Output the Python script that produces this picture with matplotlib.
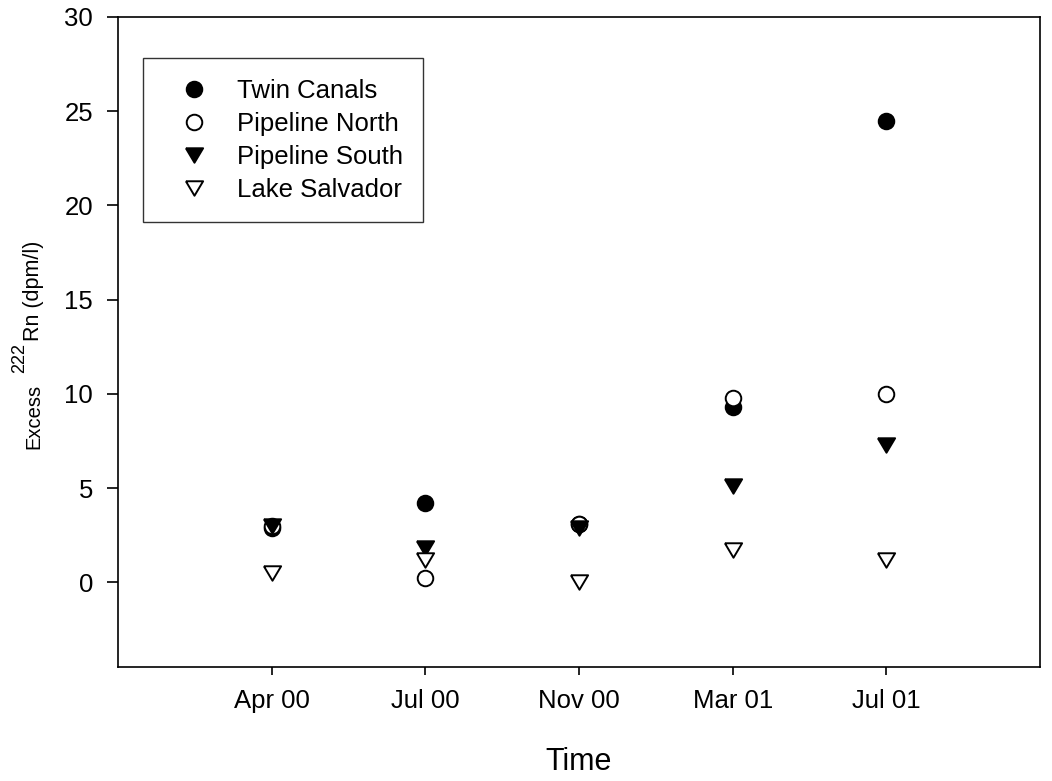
import matplotlib
matplotlib.use("Agg")
import matplotlib.pyplot as plt

plt.rcParams['font.family'] = ['Liberation Sans', 'DejaVu Sans']

times = ["Apr 00", "Jul 00", "Nov 00", "Mar 01", "Jul 01"]
twin_canals = [2.9, 4.2, 3.1, 9.3, 24.5]
pipeline_north = [3.0, 0.2, 3.1, 9.8, 10.0]
pipeline_south = [3.0, 1.8, 2.9, 5.1, 7.3]
lake_salvador = [0.5, 1.2, 0.0, 1.7, 1.2]

xpos = list(range(1, len(times) + 1))

W, H = 1052, 781
fig = plt.figure(figsize=(W / 100, H / 100), dpi=100)
ax = fig.add_axes([118 / W, 1 - 667 / H, (1040 - 118) / W, (667 - 17) / H])

tri_down = [(-1, 0.84), (1, 0.84), (0, -0.84), (-1, 0.84)]
ms_c = 11.2
ms_t = 12.4
mew = 1.4
ax.plot(xpos, twin_canals, marker='o', ms=ms_c, mfc='black', mec='black', mew=mew, ls='none', label='Twin Canals')
ax.plot(xpos, pipeline_north, marker='o', ms=ms_c, mfc='white', mec='black', mew=mew, ls='none', label='Pipeline North')
ax.plot(xpos, pipeline_south, marker=tri_down, ms=ms_t, mfc='black', mec='black', mew=mew, ls='none', label='Pipeline South')
ax.plot(xpos, lake_salvador, marker=tri_down, ms=ms_t, mfc='white', mec='black', mew=mew, ls='none', label='Lake Salvador')

ax.set_xlim(0, 6)
ax.set_ylim(-4.5, 30)
ax.set_xticks(xpos)
ax.set_xticklabels(times)
ax.set_yticks([0, 5, 10, 15, 20, 25, 30])
ax.tick_params(direction='out', width=1.2, labelsize=18.5, top=False, right=False, pad=10)
ax.tick_params(axis='y', length=8)
ax.tick_params(axis='x', length=6)
for s in ax.spines.values():
    s.set_linewidth(1.2)

ax.set_xlabel('Time', fontsize=22)
ax.xaxis.label.set_va('baseline')
ax.xaxis.set_label_coords(0.5, (667 - 770) / 650)

# y label: "Excess" + superscript "222" + "Rn (dpm/l)", rotated
def fy(ypix):
    return 1 - ypix / H

fig.text(39 / W, fy(449), 'Excess', rotation=90, rotation_mode='anchor',
         ha='left', va='baseline', fontsize=14.5)
fig.text(24 / W, fy(373), '222', rotation=90, rotation_mode='anchor',
         ha='left', va='baseline', fontsize=13)
fig.text(39 / W, fy(341), 'Rn (dpm/l)', rotation=90, rotation_mode='anchor',
         ha='left', va='baseline', fontsize=15.5)

leg = ax.legend(loc='upper left', bbox_to_anchor=((143 - 118) / 922, (667 - 58) / 650),
                borderaxespad=0, fontsize=18.5, markerscale=1.0, frameon=True,
                fancybox=False, edgecolor='black', handletextpad=0.45,
                labelspacing=0.35, borderpad=0.8, handlelength=2.4)
leg.get_frame().set_linewidth(1.0)

fig.savefig('out.png', dpi=100)
